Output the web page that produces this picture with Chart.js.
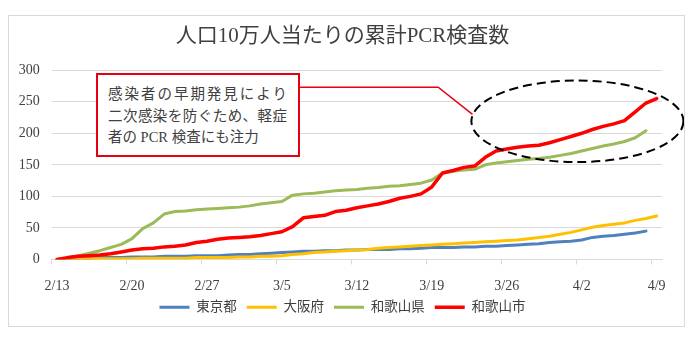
<!DOCTYPE html>
<html lang="ja">
<head>
<meta charset="UTF-8">
<script src="https://cdn.jsdelivr.net/npm/chart.js"></script>
<title>人口10万人当たりの累計PCR検査数</title>
<style>
    body { margin: 0; background: #fff; }
    #box { position: absolute; left: 8px; top: 15px; width: 677px; height: 312px;
           border: 1px solid #D9D9D9; box-sizing: border-box; }
    #note { position: absolute; left: 96px; top: 73px; width: 204px; height: 84px; box-sizing: border-box;
            border: 2px solid #E60012; background: #fff; padding: 9px 0 0 10px;
            font-family: "Liberation Serif", "Noto Sans CJK JP", serif; font-size: 14.5px;
            line-height: 21.5px; color: #404040; }
    #note div { width: 179px; white-space: nowrap; }
    #note .j { text-align: justify; text-align-last: justify; white-space: normal; }
</style>
</head>
<body>
<div id="box"><canvas id="myChart"></canvas></div>
<div id="note">
    <div class="j">感染者の早期発見により</div>
    <div class="j">二次感染を防ぐため、軽症</div>
    <div>者の PCR 検査にも注力</div>
</div>
<script>
    // 日付 (2/13 ～ 4/9)
    const dates = ['2/13','2/14','2/15','2/16','2/17','2/18','2/19','2/20','2/21','2/22','2/23','2/24','2/25','2/26',
        '2/27','2/28','2/29','3/1','3/2','3/3','3/4','3/5','3/6','3/7','3/8','3/9','3/10','3/11',
        '3/12','3/13','3/14','3/15','3/16','3/17','3/18','3/19','3/20','3/21','3/22','3/23','3/24','3/25',
        '3/26','3/27','3/28','3/29','3/30','3/31','4/1','4/2','4/3','4/4','4/5','4/6','4/7','4/8','4/9'];

    const tokyo = [0,1,2,2,3,3,3,4,4,4,5,5,5,6,6,6,7,8,8,9,10,11,12,13,13,14,14,15,15,16,16,16,17,17,18,19,19,19,20,20,
        21,21,22,23,24,25,27,28,29,31,35,37,38,40,42,45];
    const osaka = [0,0,1,1,1,1,1,1,2,2,2,2,2,3,3,3,3,4,4,5,5,6,8,9,11,12,13,14,15,16,18,19,20,21,22,23,24,25,26,27,
        28,29,30,31,33,35,37,40,43,47,51,54,56,58,62,65,69];
    const wakayamaPref = [0,3,6,10,14,19,24,33,49,58,72,76,77,79,80,81,82,83,85,88,90,92,102,104,105,107,109,110,111,113,
        114,116,117,119,121,126,137,140,142,143,150,153,155,157,159,160,162,165,168,172,176,180,183,187,193,204];
    const wakayamaCity = [0,3,5,6,7,9,12,15,17,18,20,21,23,27,29,32,34,35,36,38,41,44,52,66,68,70,76,78,82,85,
        88,92,97,100,104,115,137,141,146,148,162,172,175,178,180,181,185,190,195,200,206,211,215,220,234,248,255];

    const seriesNames = ['東京都', '大阪府', '和歌山県', '和歌山市'];
    const seriesColors = ['#4F81BD', '#FFC000', '#9BBB59', '#FF0000'];
    const yTicks = [0, 50, 100, 150, 200, 250, 300];

    // 注釈 (楕円と引き出し線) : x = 日付の位置, y = 値
    const ellipse = { x: 48.6, y: 219, rx: 9.9, ry: 64.6 };
    const leader = [[22.7, 273], [35.6, 273], [38.8, 230]];

    const serif = '"Liberation Serif", "Noto Sans CJK JP", serif';

    const calloutPlugin = {
        id: 'callout',
        afterDatasetsDraw(chart) {
            const ctx = chart.ctx;
            const xs = chart.scales.x, ys = chart.scales.y;
            ctx.save();
            // 引き出し線
            ctx.strokeStyle = '#E60012';
            ctx.lineWidth = 1.5;
            ctx.beginPath();
            leader.forEach(function (p, i) {
                const px = xs.getPixelForValue(p[0]), py = ys.getPixelForValue(p[1]);
                if (i === 0) ctx.moveTo(px, py); else ctx.lineTo(px, py);
            });
            ctx.stroke();
            // 点線の楕円
            const cx = xs.getPixelForValue(ellipse.x), cy = ys.getPixelForValue(ellipse.y);
            const rx = xs.getPixelForValue(ellipse.x + ellipse.rx) - cx;
            const ry = cy - ys.getPixelForValue(ellipse.y + ellipse.ry);
            ctx.strokeStyle = '#000';
            ctx.lineWidth = 2;
            ctx.setLineDash([9, 5]);
            ctx.beginPath();
            ctx.ellipse(cx, cy, rx, ry, 0, 0, Math.PI * 2);
            ctx.stroke();
            ctx.restore();
        }
    };

    const values = [tokyo, osaka, wakayamaPref, wakayamaCity];
    // 和歌山市を一番上に描くため逆順
    const datasets = [3, 2, 1, 0].map(function (k) {
        return {
            label: seriesNames[k],
            data: values[k],
            borderColor: seriesColors[k],
            backgroundColor: seriesColors[k],
            borderWidth: k === 3 ? 3.5 : 3,
            pointRadius: 0,
            pointStyle: 'line',
            tension: 0,
            borderJoinStyle: 'round',
            borderCapStyle: 'round'
        };
    });

    const config = {
        type: 'line',
        data: { labels: dates, datasets: datasets },
        options: {
            responsive: true,
            maintainAspectRatio: false,
            animation: false,
            layout: { padding: { left: 0, right: 8, top: 0, bottom: 2 } },
            scales: {
                x: {
                    offset: true,
                    grid: {
                        offset: true,
                        drawOnChartArea: false,
                        tickLength: 5,
                        tickColor: function (c) { return c.index % 7 === 0 ? '#D9D9D9' : 'rgba(0,0,0,0)'; }
                    },
                    border: { color: '#D9D9D9' },
                    ticks: {
                        autoSkip: false, maxRotation: 0, padding: 13,
                        color: '#404040', font: { family: serif, size: 14 },
                        callback: function (v, i) { return i % 7 === 0 ? dates[i] : ''; }
                    },
                    afterFit: function (s) { s.height = 31; }
                },
                y: {
                    min: 0, max: 300,
                    afterBuildTicks: function (s) { s.ticks = yTicks.map(function (v) { return { value: v }; }); },
                    grid: { color: '#D9D9D9', drawTicks: false },
                    border: { display: false },
                    ticks: { padding: 12, color: '#404040', font: { family: serif, size: 14 } },
                    afterFit: function (s) { s.width = 42.7; }
                },
                y2: {
                    position: 'right',
                    grid: { display: false },
                    border: { display: false },
                    ticks: { display: false },
                    afterFit: function (s) { s.width = 14; }
                }
            },
            plugins: {
                title: {
                    display: true,
                    text: '人口10万人当たりの累計PCR検査数',
                    color: '#404040',
                    font: { family: serif, size: 21, weight: 'normal' },
                    padding: { top: 8, bottom: 21 }
                },
                legend: {
                    position: 'bottom',
                    reverse: true,
                    labels: {
                        usePointStyle: true,
                        pointStyleWidth: 30,
                        boxHeight: 3,
                        padding: 10,
                        color: '#404040',
                        font: { family: serif, size: 13.5 }
                    }
                },
                tooltip: { enabled: false }
            }
        },
        plugins: [calloutPlugin]
    };

    new Chart(document.getElementById('myChart'), config);
</script>
</body>
</html>
